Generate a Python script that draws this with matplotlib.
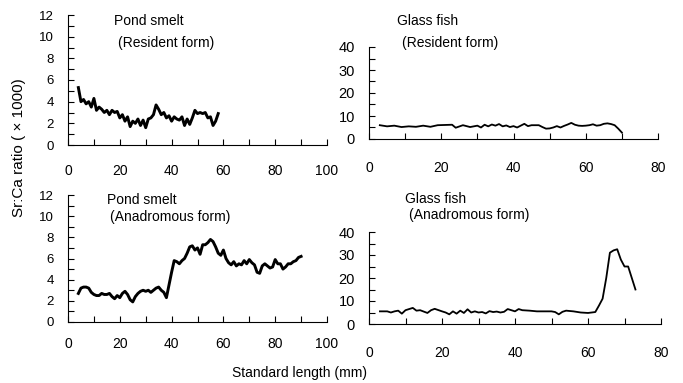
import numpy as np
import matplotlib.pyplot as plt
from matplotlib.ticker import MultipleLocator

plt.rcParams['font.family'] = ['Liberation Sans', 'DejaVu Sans']

# Pond smelt, resident form
ps_res_x = list(range(4, 59))
ps_res_y = [5.3, 4.0, 4.2, 3.8, 4.0, 3.5, 4.3, 3.2, 3.5, 3.3, 3.0, 3.2, 2.8, 3.2, 3.0,
            3.1, 2.5, 2.8, 2.2, 2.6, 1.7, 2.2, 2.0, 2.4, 1.8, 2.3, 1.6, 2.4, 2.5, 2.8,
            3.7, 3.3, 2.8, 3.0, 2.5, 2.7, 2.2, 2.6, 2.4, 2.3, 2.6, 1.8, 2.4, 1.9, 2.5,
            3.2, 2.9, 3.0, 2.9, 3.0, 2.5, 2.6, 1.8, 2.2, 2.9]

# Pond smelt, anadromous form
ps_ana_x = list(range(4, 91))
ps_ana_y = [2.7, 3.2, 3.3, 3.3, 3.2, 2.8, 2.6, 2.5, 2.5, 2.7, 2.6, 2.6, 2.7, 2.4, 2.2,
            2.5, 2.3, 2.7, 2.9, 2.6, 2.1, 1.9, 2.4, 2.7, 2.9, 3.0, 2.9, 3.0, 2.8, 3.0,
            3.2, 3.3, 3.0, 2.8, 2.3, 3.5, 4.7, 5.8, 5.7, 5.5, 5.8, 6.0, 6.5, 7.1, 7.2,
            6.8, 7.0, 6.4, 7.3, 7.3, 7.5, 7.8, 7.6, 7.1, 6.5, 6.3, 6.8, 6.0, 5.6, 5.4,
            5.7, 5.3, 5.5, 5.4, 5.8, 5.5, 5.9, 5.6, 5.4, 4.7, 4.6, 5.3, 5.5, 5.3, 5.1,
            5.2, 5.9, 5.5, 5.5, 5.0, 5.2, 5.5, 5.5, 5.7, 5.8, 6.1, 6.2]

# Glass fish, resident form
gf_res_x = [3, 5, 7, 9, 11, 13, 15, 17, 19, 21, 23, 24, 26, 28, 30, 31, 32, 33, 34, 35,
            36, 37, 38, 39, 40, 41, 42, 43, 44, 45, 46, 47, 48, 49, 50, 51, 52, 53, 54,
            55, 56, 57, 58, 59, 60, 61, 62, 63, 64, 65, 66, 67, 68, 69, 70]
gf_res_y = [6.0, 5.5, 5.8, 5.2, 5.5, 5.3, 5.8, 5.3, 6.0, 6.1, 6.2, 4.9, 6.0, 5.2, 5.8,
            5.0, 6.2, 5.5, 6.3, 5.8, 6.5, 5.5, 5.9, 5.2, 5.6, 5.0, 5.8, 6.6, 5.6, 6.0,
            6.0, 6.0, 5.2, 4.5, 4.6, 5.0, 5.6, 5.0, 5.7, 6.3, 7.0, 6.2, 5.8, 5.7, 5.8,
            6.0, 6.4, 5.8, 6.0, 6.6, 6.8, 6.5, 6.0, 4.5, 2.8]

# Glass fish, anadromous form
gf_ana_x = [3, 5, 6, 7, 8, 9, 10, 12, 13, 14, 16, 17, 18, 20, 21, 22, 23, 24, 25, 26,
            27, 28, 29, 30, 31, 32, 33, 34, 35, 36, 37, 38, 39, 40, 41, 42, 44, 46, 48,
            50, 51, 52, 53, 54, 56, 58, 60, 61, 62, 63, 64, 65, 66, 67, 68, 69, 70, 71,
            72, 73]
gf_ana_y = [5.5, 5.5, 5.0, 5.5, 5.8, 4.5, 6.0, 7.0, 5.8, 6.0, 4.8, 6.0, 6.6, 5.5, 5.0,
            4.2, 5.5, 4.5, 5.8, 4.8, 6.4, 5.0, 5.5, 5.0, 5.2, 4.6, 5.6, 5.2, 5.4, 5.0,
            5.3, 6.5, 6.0, 5.5, 6.5, 6.0, 5.8, 5.5, 5.5, 5.5, 5.2, 4.2, 5.3, 5.8, 5.5,
            5.0, 4.8, 5.0, 5.2, 8.0, 11.0, 20.0, 31.0, 32.0, 32.5, 28.0, 25.0, 25.0,
            20.0, 15.0]

W, H = 683, 383
fig = plt.figure(figsize=(W / 100, H / 100), dpi=100)


def px_axes(l, t, r, b):
    return fig.add_axes([l / W, 1 - b / H, (r - l) / W, (b - t) / H])


def style(ax, xmax, ymax, ymajor, yminor, xpad, ysize):
    ax.set_xlim(0, xmax)
    ax.set_ylim(0, ymax)
    for s in ['top', 'right']:
        ax.spines[s].set_visible(False)
    ax.xaxis.set_major_locator(MultipleLocator(20))
    ax.xaxis.set_minor_locator(MultipleLocator(10))
    ax.yaxis.set_major_locator(MultipleLocator(ymajor))
    ax.yaxis.set_minor_locator(MultipleLocator(yminor))
    ax.tick_params(which='both', direction='in', length=4, width=0.8)
    ax.tick_params(axis='x', which='major', pad=xpad, labelsize=10)
    ax.tick_params(axis='y', which='major', pad=10, labelsize=ysize)


ax1 = px_axes(68, 15, 327, 145)
ax1.plot(ps_res_x, ps_res_y, color='black', lw=2.1)
style(ax1, 100, 12, 2, 1, 14, 9.5)

ax2 = px_axes(369, 47, 658, 139)
ax2.plot(gf_res_x, gf_res_y, color='black', lw=1.3)
style(ax2, 80, 40, 10, 5, 16, 10.5)

ax3 = px_axes(68, 195, 327, 322)
ax3.plot(ps_ana_x, ps_ana_y, color='black', lw=2.1)
style(ax3, 100, 12, 2, 1, 11, 9.5)

ax4 = px_axes(369, 232, 661, 324)
ax4.plot(gf_ana_x, gf_ana_y, color='black', lw=1.3)
style(ax4, 80, 40, 10, 5, 16, 10.5)


def label(x, y, s):
    fig.text(x / W, 1 - y / H, s, fontsize=10, va='center', ha='left')


label(114, 21, 'Pond smelt')
label(118, 43, '(Resident form)')
label(397, 21, 'Glass fish')
label(402, 43, '(Resident form)')
label(107, 200, 'Pond smelt')
label(110, 217, '(Anadromous form)')
label(405, 199, 'Glass fish')
label(409, 215, '(Anadromous form)')

fig.text(19 / W, 1 - 148 / H, 'Sr:Ca ratio ( × 1000)', rotation=90,
         fontsize=11, va='center', ha='center')
fig.text(300 / W, 1 - 373 / H, 'Standard length (mm)', fontsize=10,
         va='center', ha='center')

fig.savefig('out.png', dpi=100)
